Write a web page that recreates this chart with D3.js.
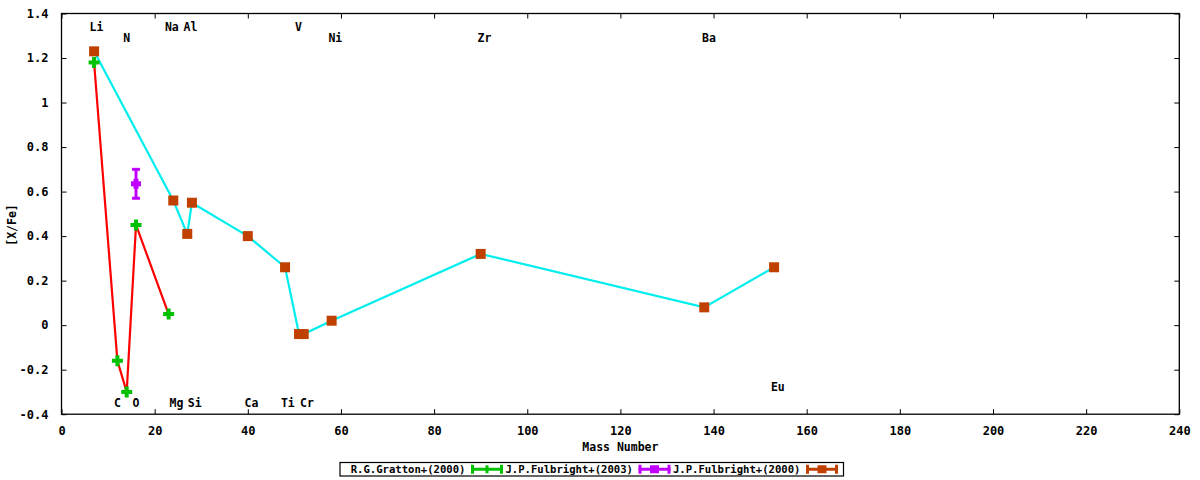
<!DOCTYPE html>
<html><head><meta charset="utf-8">
<script src="https://cdn.jsdelivr.net/npm/d3@7"></script>
<style>
body{margin:0;background:#fff;}
text{font-family:"DejaVu Sans Mono",monospace;font-weight:bold;fill:#000;}
</style></head>
<body><svg id="c" width="1200" height="480"></svg>
<script>
// ---- data ----
const xTicks = [0,20,40,60,80,100,120,140,160,180,200,220,240];
const yTicks = [-0.4,-0.2,0,0.2,0.4,0.6,0.8,1,1.2,1.4];
const yTickLabels = ["-0.4","-0.2","0","0.2","0.4","0.6","0.8","1","1.2","1.4"];

// R.G.Gratton+(2000): Li, C, N, O, Na
const grattonX = [7,12,14,16,23];
const grattonY = [1.18,-0.16,-0.30,0.45,0.05];

// J.P.Fulbright+(2003): O
const fulb03X = [16];
const fulb03Y = [0.635];
const fulb03Err = [0.065];

// J.P.Fulbright+(2000)
const fulb00X = [7,24,27,28,40,48,51,52,58,90,138,153];
const fulb00Y = [1.23,0.56,0.41,0.55,0.40,0.26,-0.04,-0.04,0.02,0.32,0.08,0.26];

// element labels (position in data coordinates)
const elemNames = ["Li","N","Na","Al","V","Ni","Zr","Ba","C","O","Mg","Si","Ca","Ti","Cr","Eu"];
const elemX =     [7.5,14.0,23.7,27.7,50.9,58.8,90.8,139.0,12.0,16.0,24.7,28.6,40.8,48.6,52.7,153.8];
const elemY =     [1.34,1.29,1.34,1.34,1.34,1.29,1.29,1.29,-0.35,-0.35,-0.35,-0.35,-0.35,-0.35,-0.35,-0.278];

const legendNames = ["R.G.Gratton+(2000)","J.P.Fulbright+(2003)","J.P.Fulbright+(2000)"];
const legendColors = ["#00c000","#c000ff","#c04000"];

// ---- drawing ----
const svg = d3.select("#c");
const L=61.5, R=1179.3, T=13.5, B=414.2;
const x = d3.scaleLinear().domain([0,240]).range([L,R]);
const y = d3.scaleLinear().domain([-0.4,1.4]).range([B,T]);

const tickLen = 5;
// axes with inward ticks
const gB = svg.append("g").attr("transform",`translate(0,${B})`)
  .call(d3.axisBottom(x).tickValues(xTicks).tickSize(-tickLen).tickPadding(12).tickFormat(d3.format("d")));
const gT = svg.append("g").attr("transform",`translate(0,${T})`)
  .call(d3.axisTop(x).tickValues(xTicks).tickSize(-tickLen).tickFormat(""));
const gL = svg.append("g").attr("transform",`translate(${L},0)`)
  .call(d3.axisLeft(y).tickValues(yTicks).tickSize(-tickLen).tickPadding(13).tickFormat((d,i)=>yTickLabels[i]));
const gR = svg.append("g").attr("transform",`translate(${R},0)`)
  .call(d3.axisRight(y).tickValues(yTicks).tickSize(-tickLen).tickFormat(""));
[gB,gT,gL,gR].forEach(g=>{
  g.select(".domain").remove();
  g.selectAll("line").attr("stroke","#000").attr("stroke-width",1);
  g.selectAll("text").style("font-size","12px").style("font-family","DejaVu Sans Mono").style("font-weight","bold").attr("fill","#000");
});
svg.append("rect").attr("x",L).attr("y",T).attr("width",R-L).attr("height",B-T)
  .attr("fill","none").attr("stroke","#000").attr("stroke-width",1.3);

// axis titles
svg.append("text").attr("x",(L+R)/2).attr("y",451).attr("text-anchor","middle").style("font-size","11.5px").text("Mass Number");
svg.append("text").attr("transform","translate(16,225) rotate(-90)").attr("text-anchor","middle").style("font-size","11.5px").text("[X/Fe]");

// element labels
svg.append("g").selectAll("text").data(elemNames).join("text")
  .attr("x",(d,i)=>x(elemX[i])).attr("y",(d,i)=>y(elemY[i]))
  .attr("text-anchor","middle").attr("dominant-baseline","central")
  .style("font-size","11.5px").text(d=>d);

// lines
const line = d3.line().x(d=>x(d[0])).y(d=>y(d[1]));
svg.append("path").datum(grattonX.map((v,i)=>[v,grattonY[i]]))
  .attr("d",line).attr("fill","none").attr("stroke","#ff0000").attr("stroke-width",2.2);
svg.append("path").datum(fulb00X.map((v,i)=>[v,fulb00Y[i]]))
  .attr("d",line).attr("fill","none").attr("stroke","#00eeee").attr("stroke-width",2.2);

// markers
function plus(g,cx,cy,color,s,w){
  g.append("rect").attr("x",cx-s/2).attr("y",cy-w/2).attr("width",s).attr("height",w).attr("fill",color);
  g.append("rect").attr("x",cx-w/2).attr("y",cy-s/2).attr("width",w).attr("height",s).attr("fill",color);
}
const gm = svg.append("g");
grattonX.forEach((v,i)=>plus(gm,x(v),y(grattonY[i]),"#00c000",11,4));

fulb03X.forEach((v,i)=>{
  const cx=x(v), y1=y(fulb03Y[i]+fulb03Err[i]), y0=y(fulb03Y[i]-fulb03Err[i]);
  gm.append("line").attr("x1",cx).attr("x2",cx).attr("y1",y0).attr("y2",y1).attr("stroke","#c000ff").attr("stroke-width",3);
  [y0,y1].forEach(yy=>gm.append("line").attr("x1",cx-4).attr("x2",cx+4).attr("y1",yy).attr("y2",yy).attr("stroke","#c000ff").attr("stroke-width",3));
  plus(gm,cx,y(fulb03Y[i]),"#c000ff",10,5);
});

gm.selectAll("rect.sq").data(fulb00X).join("rect").attr("class","sq")
  .attr("x",d=>x(d)-5).attr("y",(d,i)=>y(fulb00Y[i])-5).attr("width",10).attr("height",10).attr("fill","#c04000");

// legend
const lx0=340, ly0=462.5, lw=503.5, lh=13.5, entryW=167.5;
svg.append("rect").attr("x",lx0).attr("y",ly0).attr("width",lw).attr("height",lh)
  .attr("fill","#fff").attr("stroke","#000").attr("stroke-width",1.2);
const lg = svg.append("g");
legendNames.forEach((name,i)=>{
  const ex = lx0 + i*entryW;
  const cy = ly0+lh/2;
  lg.append("text").attr("x",ex+125.5).attr("y",cy).attr("text-anchor","end").attr("dominant-baseline","central")
    .style("font-size","10.6px").text(name);
  const c = legendColors[i], s0=ex+131, s1=ex+163;
  lg.append("line").attr("x1",s0).attr("x2",s1).attr("y1",cy).attr("y2",cy).attr("stroke",c).attr("stroke-width",3);
  [s0+1.5,s1-1.5].forEach(xx=>lg.append("line").attr("x1",xx).attr("x2",xx).attr("y1",cy-4.5).attr("y2",cy+4.5).attr("stroke",c).attr("stroke-width",3));
  const m=(s0+s1)/2;
  if(i===0) lg.append("rect").attr("x",m-1.5).attr("y",cy-4).attr("width",3).attr("height",8).attr("fill",c);
  else lg.append("rect").attr("x",m-4.5).attr("y",cy-4).attr("width",9).attr("height",8).attr("fill",c);
});
</script></body></html>
